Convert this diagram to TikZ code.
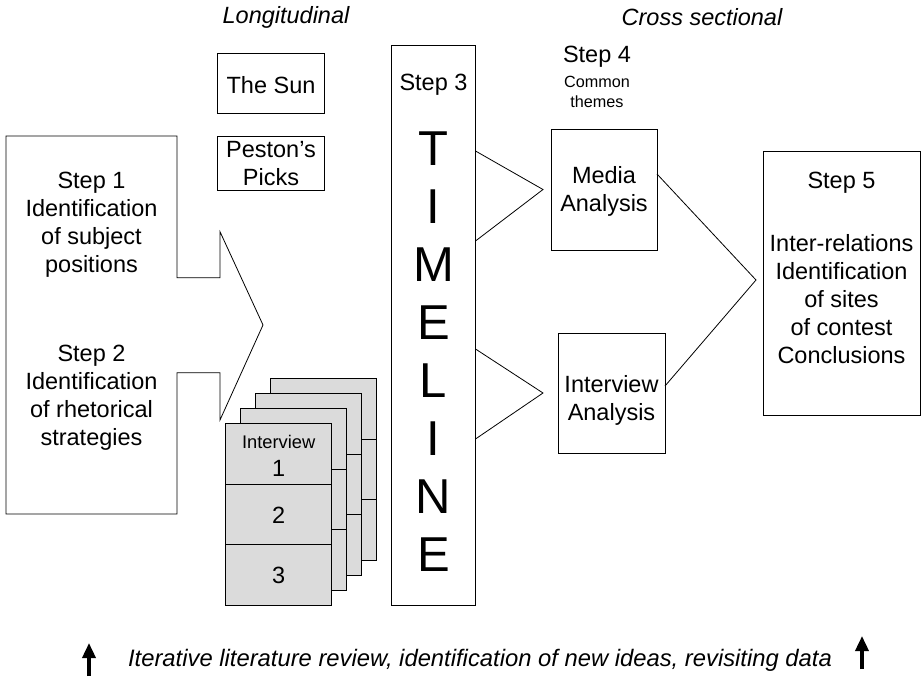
\documentclass[tikz,border=0pt]{standalone}
\usepackage{fontspec}
\setmainfont{Liberation Sans}
\usetikzlibrary{arrows.meta}
\begin{document}
\begin{tikzpicture}[x=1pt,y=-1pt,line width=0.8pt,
  box/.style={draw, inner sep=0pt, outer sep=0pt},
  card/.style={draw, fill=gray!28, inner sep=0pt, outer sep=0pt, minimum width=106, minimum height=182},
  txt/.style={font=\fontsize{23.5}{28}\selectfont, align=center, inner sep=0pt},
  itxt/.style={font=\fontsize{23.5}{28}\selectfont\itshape, align=center, inner sep=0pt},
  smalltxt/.style={font=\fontsize{16.2}{20}\selectfont, align=center, inner sep=0pt},
  bigtxt/.style={font=\fontsize{49}{58}\selectfont, align=center, inner sep=0pt},
  uparrow/.style={line width=3.5pt, -{Triangle[width=13pt,length=15pt]}}
]
\useasboundingbox (0,0) rectangle (922,682);

% headings
\node[itxt] (longi) at (286,17) {Longitudinal};
\node[itxt] (cross) at (702,17) {Cross sectional};

% left arrow-shaped box (steps 1 and 2)
\draw (6,136) -- (177,136) -- (177,277.7) -- (220,277.7) -- (220,231.7)
  -- (263,325) coordinate (leftTip) -- (220,420) -- (220,372.7) -- (177,372.7)
  -- (177,514) -- (6,514) -- cycle;
\node[txt] (step1) at (91.5,225) {Step 1\\Identification\\of subject\\positions};
\node[txt] (step2) at (91.5,398) {Step 2\\Identification\\of rhetorical\\strategies};

% newspaper boxes
\node[box, minimum width=106.6, minimum height=60] (sun) at (271,83.3) {};
\node[txt] (suntxt) at (271,85) {The Sun};
\node[box, minimum width=106.6, minimum height=53.3] (peston) at (271,163.3) {};
\node[txt] (pestontxt) at (271,164) {Peston’s\\Picks};

% interview cards (back to front)
\foreach \k/\dx in {4/45,3/30,2/15}{
  \node[card] (card\k) at (278.7+\dx,514-\dx) {};
  \draw ([yshift=-61pt]card\k.north west) -- ([yshift=-61pt]card\k.north east);
  \draw ([yshift=-121pt]card\k.north west) -- ([yshift=-121pt]card\k.north east);
}
\node[card] (card1) at (278.7,514) {};
\draw ([yshift=-61pt]card1.north west) -- ([yshift=-61pt]card1.north east);
\draw ([yshift=-121pt]card1.north west) -- ([yshift=-121pt]card1.north east);
\node[font=\fontsize{18.3}{22}\selectfont, inner sep=0pt] (intw) at (278.7,442) {Interview};
\node[txt] (n1) at (278.7,468) {1};
\node[txt] (n2) at (278.7,515) {2};
\node[txt] (n3) at (278.7,575) {3};

% timeline
\node[box, minimum width=83.5, minimum height=559.3] (timeline) at (433.5,325.35) {};
\node[txt] (step3) at (433.5,85) {Step 3};
\node[bigtxt] (tl) at (433.5,352) {T\\I\\M\\E\\L\\I\\N\\E};

% chevrons from timeline
\coordinate (c1a) at (475.5,151);
\coordinate (c1t) at (543,189.5);
\coordinate (c1b) at (475.5,241);
\coordinate (c2a) at (475.5,349);
\coordinate (c2t) at (543,393);
\coordinate (c2b) at (475.5,439);
\draw (c1a) -- (c1t) -- (c1b);
\draw (c2a) -- (c2t) -- (c2b);

% step 4
\node[txt] (step4) at (597,57) {Step 4};
\node[smalltxt] (common) at (597,92) {Common\\themes};
\node[box, minimum width=106, minimum height=121] (media) at (604,189.5) {};
\node[txt] (mediatxt) at (604,191) {Media\\Analysis};
\node[box, minimum width=107, minimum height=120] (interv) at (611.5,393) {};
\node[txt] (intervtxt) at (611.5,400) {Interview\\Analysis};

% step 5
\coordinate (m5) at (657,174);
\coordinate (tip5) at (756,280);
\coordinate (i5) at (665,386);
\draw (m5) -- (tip5) -- (i5);
\node[box, minimum width=157, minimum height=263.3] (step5box) at (841.5,283.35) {};
\node[txt] (step5) at (841.5,183) {Step 5};
\node[txt] (step5b) at (841.5,299) {Inter-relations\\Identification\\of sites\\of contest\\Conclusions};

% bottom
\coordinate (la0) at (89,676);
\coordinate (la1) at (89,643);
\coordinate (ra0) at (862,669);
\coordinate (ra1) at (862,636);
\draw[uparrow] (la0) -- (la1);
\draw[uparrow] (ra0) -- (ra1);
\node[font=\fontsize{23.8}{28}\selectfont\itshape, inner sep=0pt] (iter) at (480,660) {Iterative literature review, identification of new ideas, revisiting data};
\end{tikzpicture}
\end{document}
